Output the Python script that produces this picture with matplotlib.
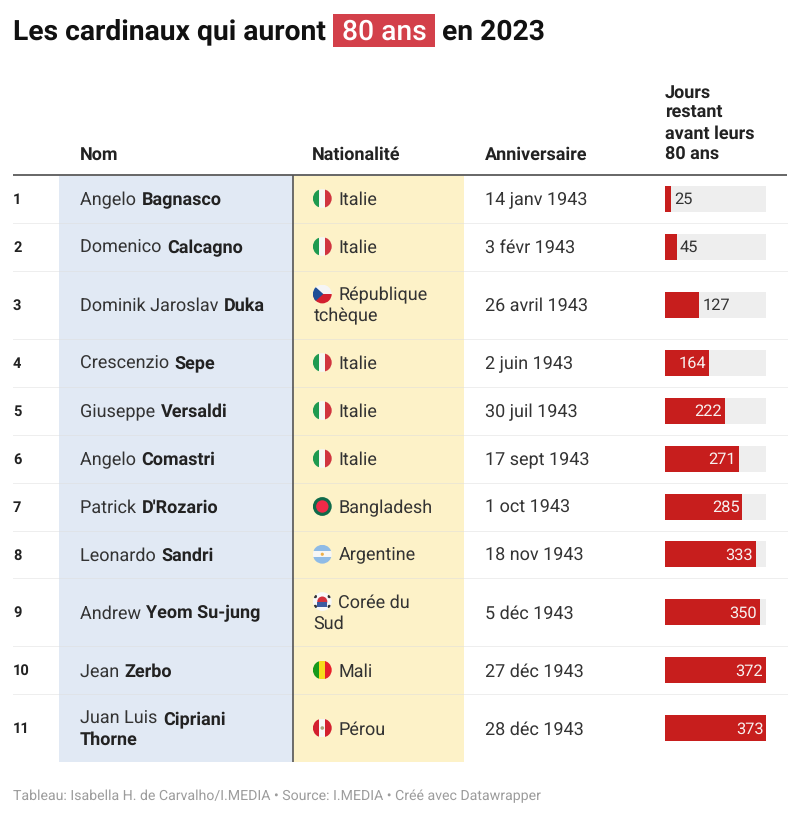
import matplotlib
matplotlib.use('Agg')
import matplotlib.pyplot as plt
from matplotlib.patches import Circle, Rectangle, Polygon

plt.rcParams['font.family'] = ['Roboto', 'DejaVu Sans']
plt.rcParams['text.hinting'] = 'no_hinting'

# donnees du tableau
first_names = ['Angelo', 'Domenico', 'Dominik Jaroslav', 'Crescenzio', 'Giuseppe',
               'Angelo', 'Patrick', 'Leonardo', 'Andrew', 'Jean', 'Juan Luis']
last_names = ['Bagnasco', 'Calcagno', 'Duka', 'Sepe', 'Versaldi', 'Comastri',
              "D'Rozario", 'Sandri', 'Yeom Su-jung', 'Zerbo', 'Cipriani\nThorne']
countries = ['Italie', 'Italie', 'République\ntchèque', 'Italie', 'Italie', 'Italie',
             'Bangladesh', 'Argentine', 'Corée du\nSud', 'Mali', 'Pérou']
birthdays = ['14 janv 1943', '3 févr 1943', '26 avril 1943', '2 juin 1943', '30 juil 1943',
             '17 sept 1943', '1 oct 1943', '18 nov 1943', '5 déc 1943', '27 déc 1943', '28 déc 1943']
days_left = [25, 45, 127, 164, 222, 271, 285, 333, 350, 372, 373]
headers = ['Nom', 'Nationalité', 'Anniversaire', 'Jours\nrestant\navant leurs\n80 ans']

W, H = 800, 817
RED = '#c71e1d'
INK = '#333333'
BODY = 13.0
NAME = 13.0
HEAD = 12.95
TITLE = 20.35

# limites des lignes, en pixels
row_edges = [174.5, 222.5, 270.5, 338.5, 386.5, 434.5, 482.5, 530.5, 578, 646, 694, 762]
row_mid = [(a + b) / 2 for a, b in zip(row_edges[:-1], row_edges[1:])]

fig = plt.figure(figsize=(W / 100, H / 100), dpi=100, facecolor='white')
ax = fig.add_axes([0, 0, 1, 1])
ax.set_xlim(0, W)
ax.set_ylim(H, 0)
ax.axis('off')
renderer = fig.canvas.get_renderer()


def base_shift(size):
    # de la mi-hauteur des capitales a la ligne de base, en pixels
    return 0.355 * size * 100 / 72


def text_run(x, y, s, fontsize, **kw):
    """Place un texte centre sur y et renvoie sa largeur en pixels."""
    t = ax.text(x, y + base_shift(fontsize), s, fontsize=fontsize, va='baseline', **kw)
    return t.get_window_extent(renderer).width


def flag(name, cx, cy, r=9.4):
    clip = Circle((cx, cy), r, transform=ax.transData)
    parts = []

    def stripes_v(colors):
        w = 2 * r / len(colors)
        for i, c in enumerate(colors):
            parts.append(Rectangle((cx - r + i * w, cy - r), w + 0.3, 2 * r, fc=c, lw=0))

    def stripes_h(colors):
        h = 2 * r / len(colors)
        for i, c in enumerate(colors):
            parts.append(Rectangle((cx - r, cy - r + i * h), 2 * r, h + 0.3, fc=c, lw=0))

    if name == 'Italie':
        stripes_v(['#1f9a50', '#f7f7f2', '#d0343f'])
    elif name.startswith('République'):
        stripes_h(['#f5f5f5', '#d3202f'])
        parts.append(Polygon([(cx - r, cy - r), (cx + 1, cy), (cx - r, cy + r)], fc='#1f4e96', lw=0))
    elif name == 'Bangladesh':
        stripes_v(['#0f6a4a'])
        parts.append(Circle((cx, cy), 6.2, fc='#ee2a48', lw=0))
    elif name == 'Argentine':
        stripes_h(['#8fbbe6', '#f7f7f5', '#8fbbe6'])
        parts.append(Circle((cx, cy), 1.6, fc='#eeb04a', lw=0))
    elif name.startswith('Corée'):
        stripes_v(['#f8f8f8'])
        parts.append(Circle((cx, cy), 5, fc='#d3303c', lw=0))
        parts.append(Rectangle((cx - 5, cy), 10, 5, fc='#3c5aa0', lw=0))
        for dx, dy in [(-7, -5), (7, -5), (-7, 5), (7, 5)]:
            parts.append(Circle((cx + dx, cy + dy), 1.7, fc='#333333', lw=0))
    elif name == 'Mali':
        stripes_v(['#169a1c', '#f6dc1c', '#e8202a'])
    elif name == 'Pérou':
        stripes_v(['#d3202f', '#f7f7f5', '#d3202f'])
        parts.append(Circle((cx, cy), 1.8, fc='#a9a37a', lw=0))
    for p in parts:
        ax.add_patch(p)
        p.set_clip_path(clip)
        p.set_zorder(4)


# titre
text_run(13, 29.7, 'Les cardinaux qui auront', TITLE, fontweight='bold', color='#111111')
ax.add_patch(Rectangle((333, 13.5), 102, 33, fc='#d3404a', lw=0))
text_run(342, 29.7, '80 ans', TITLE, fontweight='medium', color='white')
text_run(442, 29.7, 'en 2023', TITLE, fontweight='bold', color='#111111')

# colonnes colorees
ax.add_patch(Rectangle((59, 175), 233.5, 587, fc='#e1e9f4', lw=0, zorder=1))
ax.add_patch(Rectangle((292.5, 175), 171.5, 587, fc='#fdf2c8', lw=0, zorder=1))

# entetes
header_x = [80, 312, 485, 665]
for hx, label in zip(header_x[:3], headers[:3]):
    text_run(hx, 153.7, label, HEAD, fontweight='bold', color='#222222')
for i, line in enumerate(headers[3].split('\n')):
    text_run(header_x[3], 91 + i * 20.7, line, HEAD, fontweight='bold', color='#222222')
ax.plot([13, 787], [174.5, 174.5], color='#666666', lw=1.4, zorder=3, solid_capstyle='butt')
ax.plot([292.5, 292.5], [175, 762], color='#555555', lw=1.2, zorder=3, solid_capstyle='butt')

# lignes du tableau
for edge in row_edges[1:-1]:
    ax.plot([13, 787], [edge, edge], color='#dddddd', lw=0.7, alpha=0.5, zorder=2)

for i, y in enumerate(row_mid):
    text_run(13, y, str(i + 1), 10.5, fontweight='bold', color='#222222')

    # nom, avec le nom de famille en gras
    last = last_names[i].split('\n')
    y_name = y if len(last) == 1 else y - 10.5
    w = text_run(80, y_name, first_names[i] + ' ', NAME, color=INK)
    text_run(80 + w + 1, y_name, last[0], NAME, fontweight='bold', color='#222222')
    if len(last) > 1:
        text_run(80, y_name + 21, last[1], NAME, fontweight='bold', color='#222222')

    # nationalite
    lines = countries[i].split('\n')
    y_c = y if len(lines) == 1 else y - 10.5
    flag(countries[i], 322.3, y_c)
    text_run(338.5, y_c, lines[0], BODY, color=INK, zorder=5)
    if len(lines) > 1:
        text_run(313.5, y_c + 21, lines[1], BODY, color=INK, zorder=5)

    text_run(485, y, birthdays[i], BODY, color=INK)

# barres
bar_ax = fig.add_axes([664.5 / W, 0, 102 / W, 1])
bar_ax.set_xlim(0, max(days_left))
bar_ax.set_ylim(H, 0)
bar_ax.axis('off')
bar_ax.patch.set_alpha(0)
bar_ax.barh(row_mid, [max(days_left)] * len(days_left), height=26, color='#eeeeee', lw=0)
bar_ax.barh(row_mid, days_left, height=26, color=RED, lw=0)
for y, v in zip(row_mid, days_left):
    y_label = y + base_shift(11.8)
    if v >= 164:
        bar_ax.annotate(str(v), (v, y_label), xytext=(-2.2, 0), textcoords='offset points', ha='right',
                        va='baseline', fontsize=11.8, color='#f7f0ef')
    else:
        bar_ax.annotate(str(v), (v, y_label), xytext=(2.2, 0), textcoords='offset points', ha='left',
                        va='baseline', fontsize=11.8, color=INK)

# pied de page
text_run(13, 795.3, 'Tableau: Isabella H. de Carvalho/I.MEDIA • Source: I.MEDIA • Créé avec Datawrapper',
         10.2, color='#9c9c9c')

fig.savefig('out.png', dpi=100)
